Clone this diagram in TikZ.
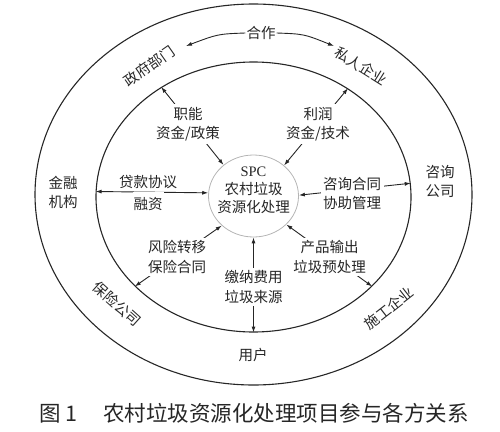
\documentclass[tikz,border=0pt]{standalone}
\usepackage{fontspec}
\setmainfont{Liberation Serif}
\newfontfamily\cjk{Noto Sans CJK SC}
\usetikzlibrary{shapes.geometric,arrows.meta}
\definecolor{ink}{HTML}{262626}
\definecolor{rim}{HTML}{B4B4B4}
\begin{document}
\begin{tikzpicture}[x=1pt,y=-1pt,
  ring/.style={draw=ink, line width=1.1pt, ellipse, inner sep=0pt},
  lbl/.style={font=\cjk\fontsize{14.5}{19.5}\selectfont, text=ink, align=center, inner sep=1pt},
  cover/.style={lbl, fill=white, inner sep=2.5pt},
  link/.style={draw=ink, line width=0.9pt, {Latex[length=6pt,width=4pt]}-{Latex[length=6pt,width=4pt]}},
  oneway/.style={draw=ink, line width=0.9pt, -{Latex[length=6pt,width=4pt]}}]
\useasboundingbox (0,0) rectangle (500,431);
% rings
\node[ring, minimum width=437pt, minimum height=381pt] (outer) at (253.5,194.5) {};
\node[ring, minimum width=315pt, minimum height=270pt] (inner) at (253.5,197) {};
\node[draw=rim, line width=0.8pt, ellipse, minimum width=90pt, minimum height=82pt, inner sep=0pt] (spc) at (253.5,196) {};
\node[text=ink, align=center, inner sep=1pt, font=\fontsize{14.5}{18}\selectfont] (spctext) at (253.5,190) {SPC\\{\cjk 农村垃圾}\\{\cjk 资源化处理}};
% connectors between the rings and the SPC
\draw[link] (inner.130) -- (spc.134);
\draw[link] (inner.49) -- (spc.45);
\draw[link] (inner.178) -- (spc.176);
\draw[link] (inner.5) -- (spc.1);
\draw[link] (inner.217) -- (spc.223);
\draw[link] (inner.323) -- (spc.319);
\draw[link] (inner.270) -- (spc.270);
% cooperation arc
\node[lbl] (hezuo) at (261,33) {合作};
\coordinate (govtip) at (186,46);
\coordinate (privtip) at (334,46);
\draw[oneway] (hezuo.west) .. controls (218,34) .. (govtip);
\draw[oneway] (hezuo.east) .. controls (304,34) .. (privtip);
% parties
\node[lbl, rotate=35] (gov) at (149,66) {政府部门};
\node[lbl, rotate=-32] (priv) at (361,66) {私人企业};
\node[lbl] (fin) at (63,192.5) {金融\\机构};
\node[lbl] (cons) at (440,181.5) {咨询\\公司};
\node[lbl, rotate=-42] (ins) at (117,304) {保险公司};
\node[lbl, rotate=38] (build) at (389,308) {施工企业};
\node[lbl] (user) at (253,355) {用户};
% relation labels
\node[cover] (labtl) at (188,124) {职能\\资金/政策};
\node[cover] (labtr) at (318,124) {利润\\资金/技术};
\node[lbl, fill=white, minimum height=25pt, inner xsep=1pt] (labl2) at (148,204.5) {融资};
\node[lbl] (labl1) at (148,182) {贷款协议};
\node[cover] (labr) at (352,193.5) {咨询合同\\协助管理};
\node[cover] (labbl) at (177,257) {风险转移\\保险合同};
\node[cover] (labbr) at (329.5,257) {产品输出\\垃圾预处理};
\node[cover] (labb) at (253.5,287) {缴纳费用\\垃圾来源};
% caption
\node[font=\cjk\fontsize{21.5}{25}\selectfont, text=ink, inner sep=0pt] (caption) at (254,413) {图 1\hspace{26pt}农村垃圾资源化处理项目参与各方关系};
\end{tikzpicture}
\end{document}
